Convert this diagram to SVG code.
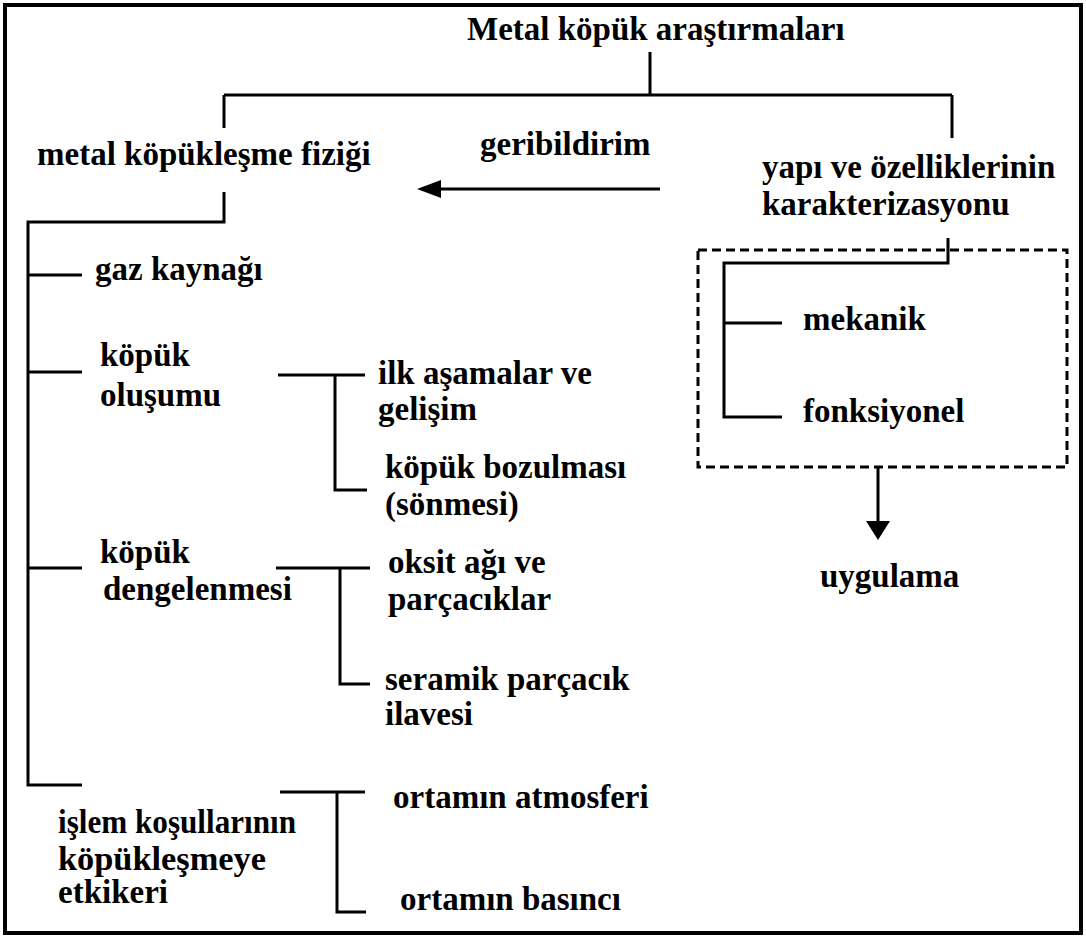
<svg xmlns="http://www.w3.org/2000/svg" width="1086" height="938" viewBox="0 0 1086 938">
<style>
.t{font-family:"Liberation Serif","Times New Roman",serif;font-weight:bold;font-size:33px;fill:#000}
.c{stroke:#000;stroke-width:3;fill:none}
.h{fill:#000;stroke:none}
</style>
<rect x="0" y="0" width="1086" height="938" fill="#fff"/>
<rect x="5" y="5" width="1076" height="928" fill="none" stroke="#000" stroke-width="4"/>

<g id="connectors">
<g class="c">
<path d="M650,52 V95 M224,95 H952 M224,95 V128 M952,95 V138"/>
<path d="M660,189 H436"/>
<path d="M224,192 V222 H28 V785 H82 M28,275 H82 M28,372 H82 M28,568 H82"/>
<path d="M278,375 H365 M335,375 V490 H367"/>
<path d="M276,568 H370 M340,568 V684 H370"/>
<path d="M280,792 H365 M337,792 V912 H366"/>
<path d="M948,238 V263 H724 V417 H782 M724,323 H782"/>
<path d="M878,467 V524"/>
</g>
<polygon class="h" points="417,189 441,180 441,198"/>
<polygon class="h" points="878,540 866,521 890,521"/>
</g>
<rect id="group-box" x="698" y="250" width="369" height="217" fill="none" stroke="#000" stroke-width="3" stroke-dasharray="9,5"/>

<g id="n-root"><text class="t" x="467" y="40">Metal köpük araştırmaları</text></g>
<g id="n-fizik"><text class="t" x="37" y="165">metal köpükleşme fiziği</text></g>
<g id="n-geri"><text class="t" x="480" y="155">geribildirim</text></g>
<g id="n-yapi"><text class="t" x="762" y="178">yapı ve özelliklerinin</text><text class="t" x="762" y="215">karakterizasyonu</text></g>
<g id="n-gaz"><text class="t" x="95" y="280">gaz kaynağı</text></g>
<g id="n-olusum"><text class="t" x="100" y="366">köpük</text><text class="t" x="100" y="406">oluşumu</text></g>
<g id="n-ilk"><text class="t" x="378" y="384">ilk aşamalar ve</text><text class="t" x="378" y="420">gelişim</text></g>
<g id="n-bozul"><text class="t" x="385" y="478">köpük bozulması</text><text class="t" x="385" y="515">(sönmesi)</text></g>
<g id="n-denge"><text class="t" x="100" y="563">köpük</text><text class="t" x="103" y="600">dengelenmesi</text></g>
<g id="n-oksit"><text class="t" x="388" y="573">oksit ağı ve</text><text class="t" x="388" y="610">parçacıklar</text></g>
<g id="n-seramik"><text class="t" x="385" y="690">seramik parçacık</text><text class="t" x="385" y="725">ilavesi</text></g>
<g id="n-islem"><text class="t" x="58" y="833" textLength="238" lengthAdjust="spacingAndGlyphs">işlem koşullarının</text><text class="t" x="58" y="870" textLength="208" lengthAdjust="spacingAndGlyphs">köpükleşmeye</text><text class="t" x="58" y="903">etkikeri</text></g>
<g id="n-atmos"><text class="t" x="393" y="808">ortamın atmosferi</text></g>
<g id="n-basinc"><text class="t" x="400" y="910">ortamın basıncı</text></g>
<g id="n-mek"><text class="t" x="803" y="330">mekanik</text></g>
<g id="n-fonk"><text class="t" x="803" y="422">fonksiyonel</text></g>
<g id="n-uyg"><text class="t" x="820" y="587">uygulama</text></g>
</svg>
